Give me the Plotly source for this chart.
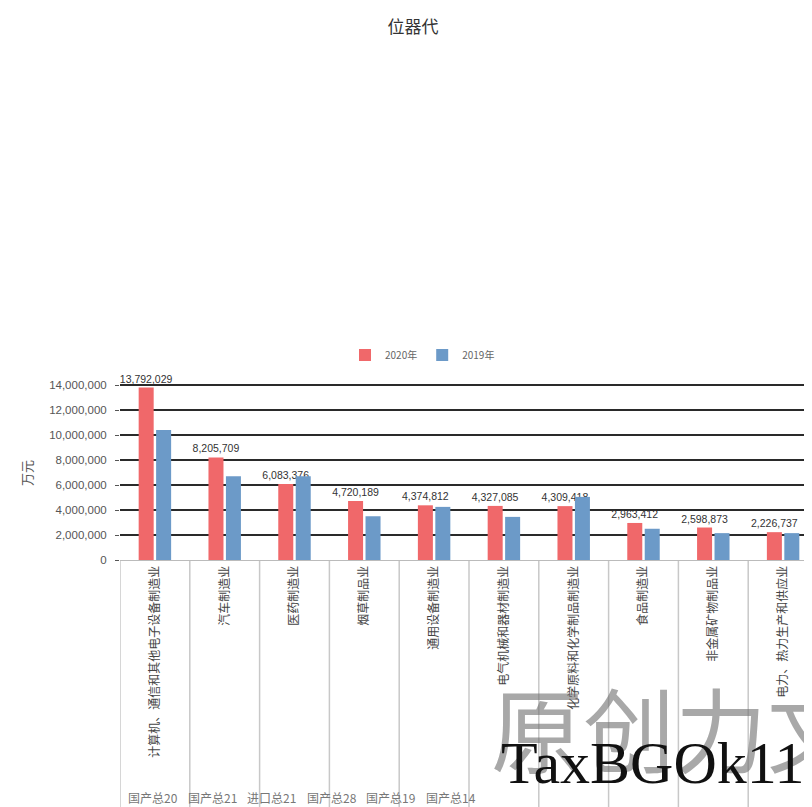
import plotly.graph_objects as go

categories = [
    "计算机、通信和其他电子设备制造业",
    "汽车制造业",
    "医药制造业",
    "烟草制品业",
    "通用设备制造业",
    "电气机械和器材制造业",
    "化学原料和化学制品制造业",
    "食品制造业",
    "非金属矿物制品业",
    "电力、热力生产和供应业",
]
series_2020 = [13792029, 8205709, 6083376, 4720189, 4374812, 4327085, 4309418, 2963412, 2598873, 2226737]
series_2019 = [10400000, 6700000, 6700000, 3500000, 4250000, 3450000, 5050000, 2500000, 2150000, 2150000]
y_ticks = [0, 2000000, 4000000, 6000000, 8000000, 10000000, 12000000, 14000000]
bottom_row = ["国产总20", "国产总21", "进口总21", "国产总28", "国产总19", "国产总14"]

# The page body has an 8px margin; work in screenshot pixels and convert.
OFF = 8
W, H = 812 - OFF, 807 - OFF
Y_MAX = 14400000
PX_PER_M = 12.5
S_LEFT, S_BOTTOM = 120, 560                 # screenshot pixels
S_TOP = S_BOTTOM - Y_MAX / 1e6 * PX_PER_M
L = S_LEFT - OFF
T = S_TOP - OFF
PLOT_BOTTOM = S_BOTTOM - OFF
B = H - PLOT_BOTTOM
PH = PLOT_BOTTOM - T
PW = W - L


def py(ys):
    return (PLOT_BOTTOM - (ys - OFF)) / PH


def px(xs):
    return ((xs - OFF) - L) / PW


fig = go.Figure()
fig.add_trace(go.Bar(
    x=categories, y=series_2020, name="2020年",
    marker=dict(color="#F0686A", line=dict(width=0)),
    text=[f"{v:,}" for v in series_2020], textposition="outside",
    constraintext="none",
    textfont=dict(size=10.5, color="#333", family="Liberation Sans"),
    cliponaxis=False,
))
fig.add_trace(go.Bar(
    x=categories, y=series_2019, name="2019年",
    marker=dict(color="#6C9AC8", line=dict(width=0)),
))

shapes = []
for i in range(len(categories) + 1):
    shapes.append(dict(type="line", xref="x", yref="paper",
                       x0=i - 0.5, x1=i - 0.5, y0=0, y1=-B / PH,
                       line=dict(color="#C8C8C8", width=1.5), layer="below"))

n_visible = PW / 69.8

annotations = [
    dict(text="万元", x=px(26), y=py(473), xref="paper", yref="paper", textangle=-90,
         showarrow=False, font=dict(size=13, color="#555", family="Noto Sans CJK SC"),
         xanchor="center", yanchor="middle"),
    dict(text="原创力文", x=px(489), y=py(725), xref="paper", yref="paper",
         showarrow=False, xanchor="left", yanchor="middle",
         font=dict(size=92, color="rgba(110,110,110,0.6)", family="Noto Sans CJK SC")),
    dict(text="TaxBGOk118", x=px(499), y=py(763), xref="paper", yref="paper",
         showarrow=False, xanchor="left", yanchor="middle",
         font=dict(size=60, color="#111", family="Liberation Serif")),
]
for i, t in enumerate(bottom_row):
    annotations.append(dict(text=t, x=px(126 + 59.5 * i), y=py(797), xref="paper", yref="paper",
                            showarrow=False, xanchor="left", yanchor="middle",
                            font=dict(size=12, color="#777", family="Noto Sans CJK SC")))

fig.update_layout(
    width=W, height=H,
    margin=dict(l=L, r=0, t=T, b=B, autoexpand=False),
    paper_bgcolor="white", plot_bgcolor="white",
    barmode="group", bargap=0.5, bargroupgap=0.14,
    title=dict(text="位器代", x=(413 - OFF) / W, xanchor="center", y=1 - (27 - OFF) / H, yanchor="middle",
               font=dict(size=17, color="#333", family="Noto Sans CJK SC")),
    legend=dict(orientation="h", x=px(345), xanchor="left", y=py(355), yanchor="middle",
                font=dict(size=10, color="#666", family="Noto Sans CJK SC"),
                itemwidth=30, bgcolor="rgba(0,0,0,0)"),
    font=dict(family="Noto Sans CJK SC"),
    shapes=shapes,
    annotations=annotations,
    xaxis=dict(type="category", range=[-0.5, -0.5 + n_visible], tickangle=-90,
               tickfont=dict(size=12, color="#444", family="Noto Sans CJK SC"),
               showline=True, linecolor="#BBBBBB", linewidth=1, ticks="", automargin=False,
               showgrid=False),
    yaxis=dict(range=[0, Y_MAX], tickvals=y_ticks, tickformat=",d",
               tickfont=dict(size=11.5, color="#555", family="Liberation Sans"),
               showgrid=True, gridcolor="#2A2A2A", gridwidth=2,
               ticks="outside", ticklen=4, tickcolor="#555", tickwidth=1,
               ticklabelstandoff=6,
               zeroline=False, showline=False, automargin=False),
)

fig.write_html("out.html")
